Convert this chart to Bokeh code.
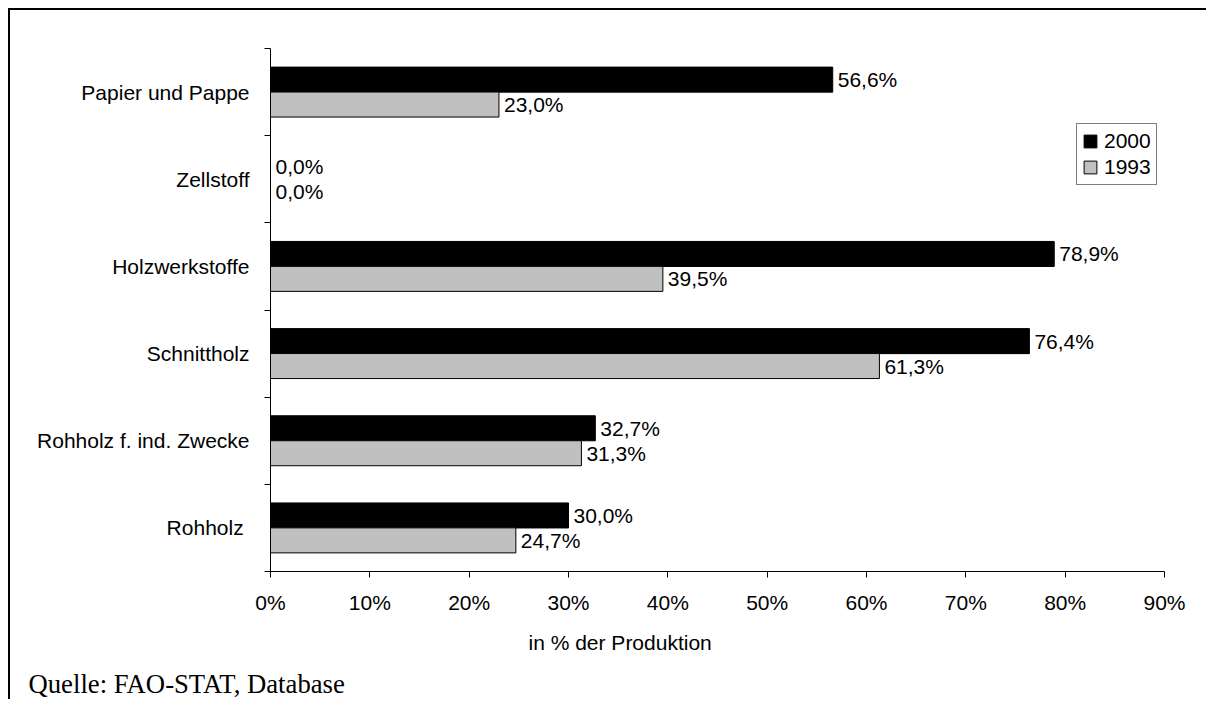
from bokeh.plotting import figure
from bokeh.models import (ColumnDataSource, Range1d, FixedTicker, PrintfTickFormatter,
                          Legend, LegendItem, Title)
from bokeh.transform import dodge
from bokeh.embed import file_html
from bokeh.resources import INLINE

categories = ["Rohholz ", "Rohholz f. ind. Zwecke", "Schnittholz", "Holzwerkstoffe",
              "Zellstoff", "Papier und Pappe"]
values_2000 = [30.0, 32.7, 76.4, 78.9, 0.0, 56.6]
values_1993 = [24.7, 31.3, 61.3, 39.5, 0.0, 23.0]
x_ticks = [0, 10, 20, 30, 40, 50, 60, 70, 80, 90]

def fmt(v):
    return ("%.1f" % v).replace(".", ",") + "%"

pos = [i + 0.5 for i in range(len(categories))]
src = ColumnDataSource(dict(
    y=pos,
    v2000=values_2000,
    v1993=values_1993,
    t2000=[fmt(v) for v in values_2000],
    t1993=[fmt(v) for v in values_1993],
))

FONT = "Liberation Sans"
FS = "21px"

p = figure(width=1198, height=691, output_backend="svg", toolbar_location=None,
           x_range=Range1d(0, 90), y_range=Range1d(0, len(categories)),
           min_border_left=260, min_border_top=38, min_border_right=44, min_border_bottom=130)
p.styles = {"border-top": "2px solid black", "border-left": "2px solid black",
            "margin-left": "8px", "margin-top": "8px"}
p.outline_line_color = None
p.xgrid.visible = False
p.ygrid.visible = False
p.background_fill_color = "white"
p.border_fill_color = "white"

h = 0.287
r2000 = p.hbar(y=dodge("y", 0.143), right="v2000", left=0, height=h, source=src,
               fill_color="black", line_color="black", line_width=1)
r1993 = p.hbar(y=dodge("y", -0.143), right="v1993", left=0, height=h, source=src,
               fill_color="#C0C0C0", line_color="black", line_width=1)

p.text(x="v2000", y=dodge("y", 0.143), text="t2000", source=src, x_offset=5,
       text_baseline="middle", text_align="left", text_font_size=FS,
       text_font={"value": FONT}, text_color="black")
p.text(x="v1993", y=dodge("y", -0.143), text="t1993", source=src, x_offset=5,
       text_baseline="middle", text_align="left", text_font_size=FS,
       text_font={"value": FONT}, text_color="black")

# x axis
xa = p.xaxis[0]
xa.ticker = FixedTicker(ticks=x_ticks, minor_ticks=[])
xa.formatter = PrintfTickFormatter(format="%d%%")
xa.major_tick_in = 0
xa.major_tick_out = 6
xa.minor_tick_line_color = None
xa.major_label_text_font = FONT
xa.major_label_text_font_size = FS
xa.major_label_text_color = "black"
xa.major_label_standoff = 13
xa.axis_line_color = "black"
xa.major_tick_line_color = "black"

# y axis
ya = p.yaxis[0]
ya.ticker = FixedTicker(ticks=pos, minor_ticks=list(range(len(categories) + 1)))
ya.major_label_overrides = {float(v): c for v, c in zip(pos, categories)}
ya.major_tick_in = 0
ya.major_tick_out = 0
ya.minor_tick_in = 0
ya.minor_tick_out = 6
ya.minor_tick_line_color = "black"
ya.major_label_text_font = FONT
ya.major_label_text_font_size = FS
ya.major_label_text_color = "black"
ya.major_label_standoff = 15
ya.axis_line_color = "black"

p.add_layout(Title(text="in % der Produktion", align="left", offset=258,
                   text_font=FONT, text_font_size=FS, text_font_style="normal",
                   text_color="black", standoff=25), "below")
p.add_layout(Title(text="Quelle: FAO-STAT, Database", align="left", offset=-242,
                   text_font="Liberation Serif", text_font_size="26.7px",
                   text_font_style="normal", text_color="black", standoff=0), "below")

legend = Legend(items=[LegendItem(label="2000", renderers=[r2000]),
                       LegendItem(label="1993", renderers=[r1993])],
                location=(806, 386), orientation="vertical",
                label_text_font=FONT, label_text_font_size=FS, label_text_color="black",
                glyph_width=16, glyph_height=16, label_height=21, label_standoff=6,
                padding=5, spacing=2, margin=0,
                border_line_color="black", border_line_width=1,
                background_fill_color="white", background_fill_alpha=1)
p.add_layout(legend)

open("out.html", "w").write(file_html(p, INLINE))
